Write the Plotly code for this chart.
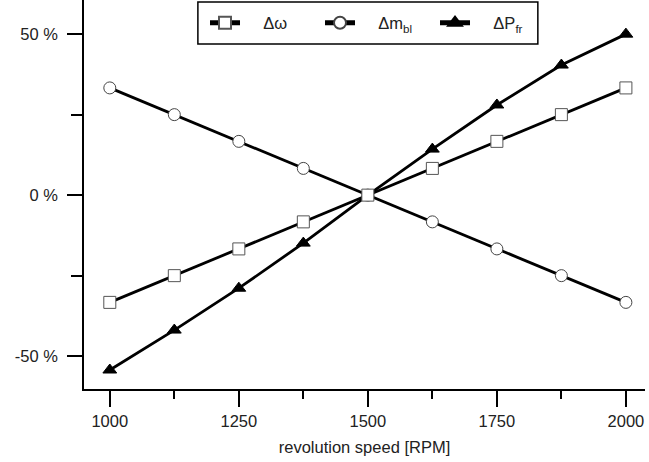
import plotly.graph_objects as go

rpm = [1000, 1125, 1250, 1375, 1500, 1625, 1750, 1875, 2000]
d_omega = [-33.3, -25.0, -16.7, -8.3, 0.0, 8.3, 16.7, 25.0, 33.3]
d_mbl = [33.3, 25.0, 16.7, 8.3, 0.0, -8.3, -16.7, -25.0, -33.3]
d_pfr = [-54.3, -41.9, -28.9, -14.9, 0.0, 14.3, 28.0, 40.4, 50.0]

x_ticks = [1000, 1250, 1500, 1750, 2000]
x_minor = [1125, 1375, 1625, 1875]
y_ticks = [-50, 0, 50]
y_ticklabels = ["-50 %", "0 %", "50 %"]
y_minor = [-25, 25]

font = "Liberation Sans, Arial, sans-serif"
fs = 16.5
pad = "\u00a0\u00a0\u00a0\u00a0"

fig = go.Figure()
fig.add_trace(go.Scatter(
    x=rpm, y=d_pfr, mode="lines+markers", name=pad + "ΔP<sub>fr</sub>",
    line=dict(color="black", width=2.8),
    marker=dict(symbol="triangle-up", size=12, color="black",
                line=dict(color="black", width=1)),
))
fig.add_trace(go.Scatter(
    x=rpm, y=d_mbl, mode="lines+markers", name=pad + "Δm<sub>bl</sub>",
    line=dict(color="black", width=2.8),
    marker=dict(symbol="circle", size=12, color="white",
                line=dict(color="#444444", width=1)),
))
fig.add_trace(go.Scatter(
    x=rpm, y=d_omega, mode="lines+markers", name=pad + "Δω",
    line=dict(color="black", width=2.8),
    marker=dict(symbol="square", size=12, color="white",
                line=dict(color="#555555", width=1)),
))

# legend frame
fig.add_shape(type="rect", xref="paper", yref="paper",
              x0=0.203, x1=0.809, y0=0.887, y1=0.995,
              line=dict(color="black", width=1.5), fillcolor="white",
              layer="below")

fig.update_layout(
    width=649, height=462,
    margin=dict(l=84, r=4, t=0, b=73),
    paper_bgcolor="white", plot_bgcolor="white",
    font=dict(family=font, size=fs, color="#222222"),
    showlegend=True,
    legend=dict(
        orientation="h", traceorder="reversed",
        x=0.2157, xanchor="left", y=0.941, yanchor="middle",
        borderwidth=0, bgcolor="rgba(0,0,0,0)",
        entrywidth=70, entrywidthmode="pixels",
        font=dict(family=font, size=fs, color="#222222"),
        itemsizing="constant",
    ),
    xaxis=dict(
        range=[950, 2037], showgrid=False, zeroline=False,
        showline=True, linecolor="black", linewidth=1.5,
        tickmode="array", tickvals=x_ticks,
        ticks="outside", ticklen=16, tickwidth=1.5, tickcolor="black",
        ticklabelstandoff=0,
        minor=dict(tickvals=x_minor, ticks="outside", ticklen=8,
                   tickwidth=1.5, tickcolor="black", showgrid=False),
        title=dict(text="revolution speed [RPM]", standoff=13,
                   font=dict(size=fs)),
        tickfont=dict(size=fs),
    ),
    yaxis=dict(
        range=[-60.2, 60.6], showgrid=False, zeroline=False,
        showline=True, linecolor="black", linewidth=1.5,
        tickmode="array", tickvals=y_ticks, ticktext=y_ticklabels,
        ticks="outside", ticklen=15, tickwidth=1.5, tickcolor="black",
        ticklabelstandoff=6,
        minor=dict(tickvals=y_minor, ticks="outside", ticklen=11,
                   tickwidth=1.5, tickcolor="black", showgrid=False),
        tickfont=dict(size=fs),
    ),
)

fig.write_html("out.html")
